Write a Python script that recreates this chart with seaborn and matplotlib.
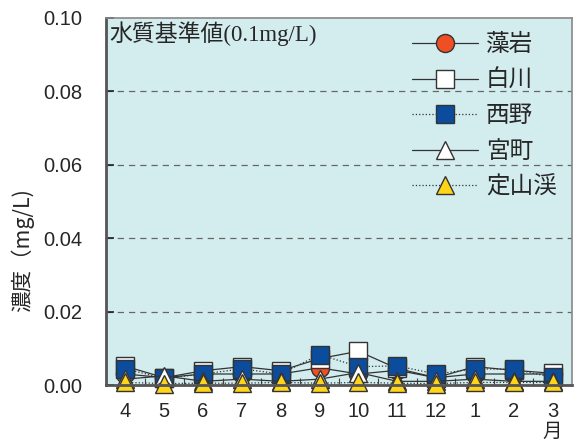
import matplotlib
matplotlib.use("Agg")
import matplotlib.pyplot as plt
import numpy as np
import pandas as pd
import seaborn as sns
from matplotlib.ticker import FixedLocator

months = ["4", "5", "6", "7", "8", "9", "10", "11", "12", "1", "2", "3"]
moiwa = [0.003, 0.002, 0.003, 0.003, 0.003, 0.0047, 0.003, 0.004, 0.002, 0.003, 0.003, 0.003]
shirakawa = [0.0051, 0.002, 0.0039, 0.005, 0.0039, 0.0072, 0.0092, 0.0045, 0.002, 0.005, 0.004, 0.0032]
nishino = [0.0044, 0.0018, 0.003, 0.0044, 0.003, 0.0083, 0.005, 0.0052, 0.003, 0.0044, 0.0043, 0.0021]
miyamachi = [0.0016, 0.0025, 0.001, 0.0016, 0.001, 0.0016, 0.0034, 0.001, 0.001, 0.0016, 0.001, 0.001]
jozankei = [0.0007, 0.0004, 0.0005, 0.0005, 0.0007, 0.0005, 0.0007, 0.0005, 0.0004, 0.0007, 0.0007, 0.0007]

series = [
    ("藻岩", moiwa, "o", "#f04e23", "-"),
    ("白川", shirakawa, "s", "white", "-"),
    ("西野", nishino, "s", "#0b4c9c", ":"),
    ("宮町", miyamachi, "^", "white", "-"),
    ("定山渓", jozankei, "^", "#ffd51a", ":"),
]

sns.set_style("ticks")
plt.rcParams["font.family"] = ["Liberation Sans", "Noto Sans CJK JP"]

fig = plt.figure(figsize=(5.74, 4.43), dpi=100)
ax = fig.add_axes([0.1847, 0.1309, 0.8118, 0.8285])
ax.set_facecolor("#d3ecee")

pos = np.arange(len(months))
for name, vals, mk, col, ls in series:
    df = pd.DataFrame({"pos": pos, "val": vals})
    sns.lineplot(
        data=df, x="pos", y="val", ax=ax, color="#333333", linestyle=ls,
        linewidth=0.9, marker=mk, markersize=13, markerfacecolor=col,
        markeredgecolor="#333333", markeredgewidth=1.0, label=name,
        clip_on=False, sort=False,
    )

for yv in [0.02, 0.04, 0.06, 0.08]:
    ax.axhline(yv, color="#666666", linestyle=(0, (5, 4)), linewidth=0.9, zorder=0.5)

ax.set_xlim(-0.5, 11.5)
ax.set_ylim(0, 0.10)
ax.set_yticks([0.0, 0.02, 0.04, 0.06, 0.08, 0.10])
ax.set_yticklabels(["0.00", "0.02", "0.04", "0.06", "0.08", "0.10"], fontsize=14.5)
ax.set_xticks(pos)
ax.set_xticklabels(months, fontsize=14.5)
ax.xaxis.set_minor_locator(FixedLocator(np.arange(0.5, 11, 1)))
ax.tick_params(axis="x", which="major", length=0, pad=12)
ax.tick_params(axis="x", which="minor", direction="in", length=5, width=0.8, color="#444444")
ax.tick_params(axis="y", direction="in", length=6, width=1.2, color="#222222", pad=17)
ax.set_xlabel("")
ax.set_ylabel("濃度（mg/L)", fontsize=15.5, family=["Noto Sans CJK JP"])
ax.yaxis.set_label_coords(-0.155, 0.368)

for s in ["left", "bottom"]:
    ax.spines[s].set_color("#555555")
    ax.spines[s].set_linewidth(2)
for s in ["top", "right"]:
    ax.spines[s].set_color("#888888")
    ax.spines[s].set_linewidth(1.2)

ax.annotate("月", xy=(11, 0), xycoords=("data", "axes fraction"), xytext=(0, -26),
            textcoords="offset points", ha="center", va="top", fontsize=14,
            family=["Noto Sans CJK JP"])

ax.text(0.008, 0.99, "水質基準値(0.1mg/L)", transform=ax.transAxes, ha="left", va="top",
        fontsize=16.5, family=["Liberation Serif", "Noto Sans CJK JP"])

leg = ax.legend(loc="upper right", bbox_to_anchor=(0.988, 0.984), frameon=False,
                borderaxespad=0, handlelength=2.8, labelspacing=0.53, handletextpad=0.35,
                prop={"family": "Noto Sans CJK JP", "size": 17})

fig.savefig("out.png", dpi=100)
